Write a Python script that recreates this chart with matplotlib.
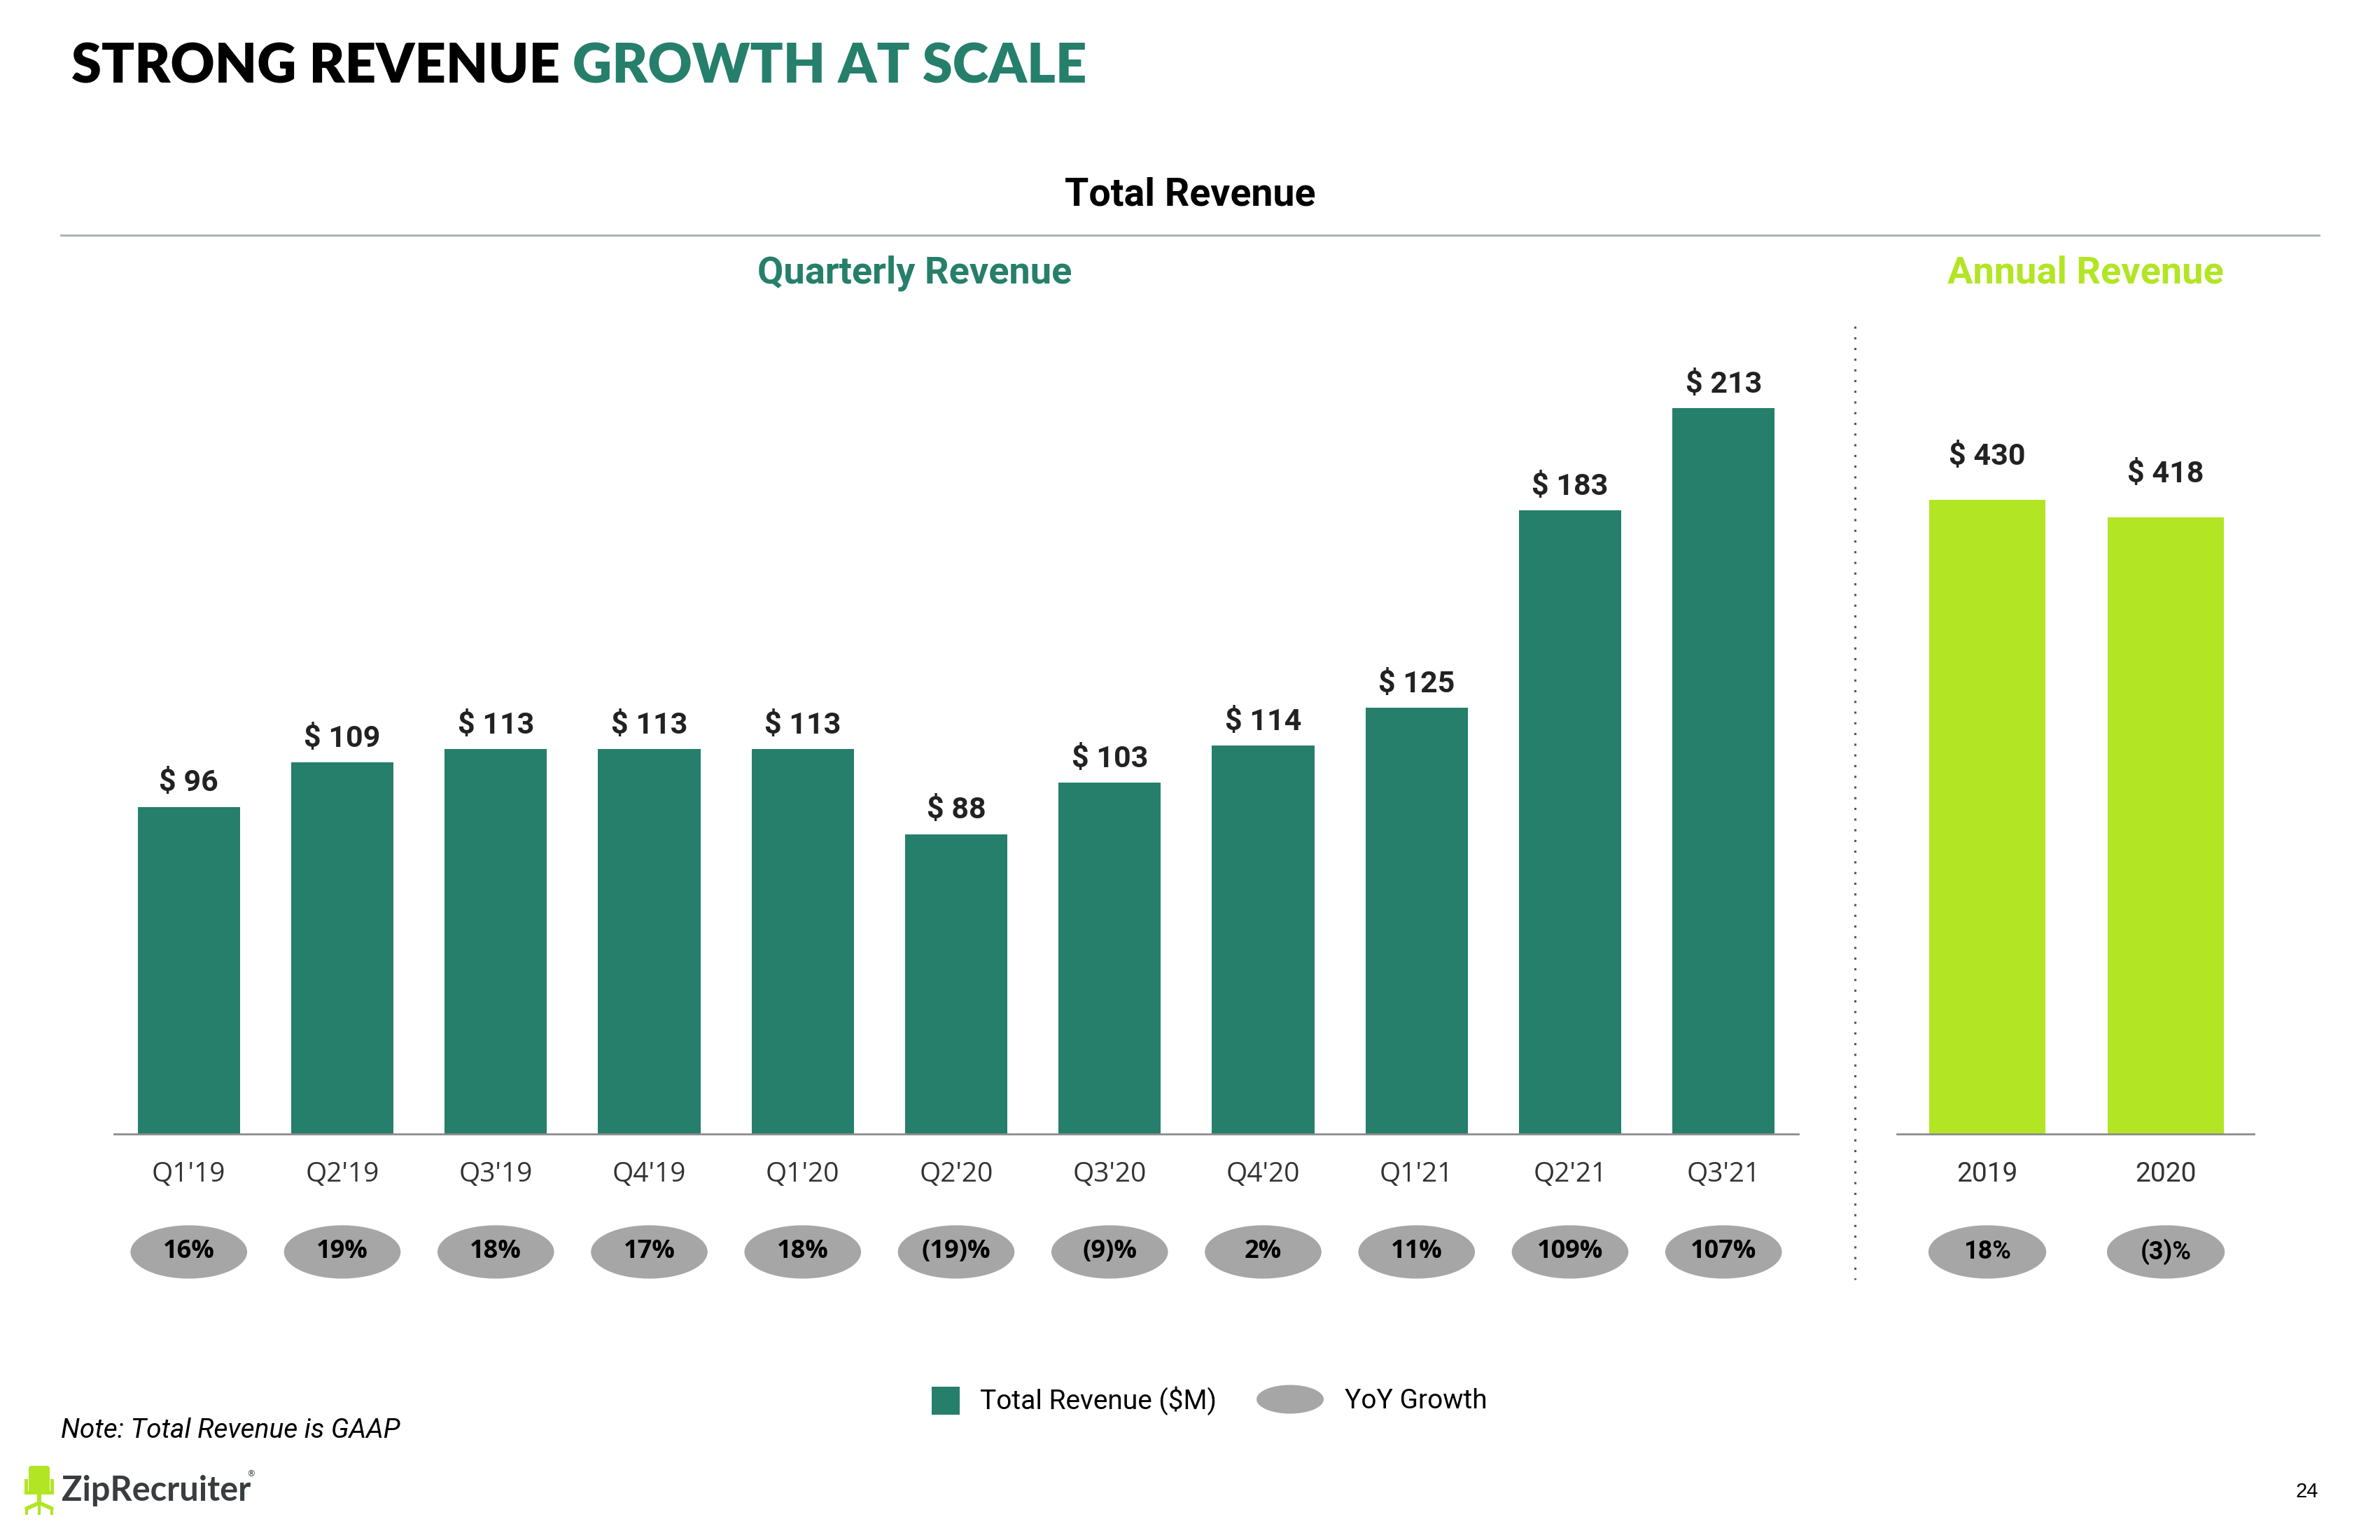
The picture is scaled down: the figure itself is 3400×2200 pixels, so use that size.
import matplotlib
matplotlib.use('Agg')
import matplotlib.pyplot as plt
from matplotlib.patches import Rectangle, Ellipse, FancyBboxPatch
from matplotlib.transforms import blended_transform_factory

# data
quarters = ["Q1'19", "Q2'19", "Q3'19", "Q4'19", "Q1'20", "Q2'20",
			"Q3'20", "Q4'20", "Q1'21", "Q2'21", "Q3'21"]
quarter_rev = [96, 109, 113, 113, 113, 88, 103, 114, 125, 183, 213]
quarter_yoy = ["16%", "19%", "18%", "17%", "18%", "(19)%",
			   "(9)%", "2%", "11%", "109%", "107%"]

years = ["2019", "2020"]
annual_rev = [430, 418]
annual_yoy = ["18%", "(3)%"]

GREEN = '#267F6A'
LIME = '#B2E524'
OVAL = '#A6A6A6'
W, H = 3400, 2200

fig = plt.figure(figsize=(W/100, H/100), dpi=100)

# background axes in pixel coords for the slide decoration
bg = fig.add_axes([0, 0, 1, 1])
bg.set_xlim(0, W)
bg.set_ylim(H, 0)
bg.axis('off')

def ax_rect(x0, x1, ytop, ybot):
	return [x0/W, 1-ybot/H, (x1-x0)/W, (ybot-ytop)/H]

# title
t1 = bg.text(102, 96, "STRONG REVENUE ", fontsize=56, family='Lato',
			 weight='heavy', color='black', va='center', ha='left')
bg.annotate("GROWTH AT SCALE", xy=(1, 0), xycoords=t1, va='bottom', ha='left',
			fontsize=56, family='Lato', weight='heavy', color=GREEN)

bg.text(1700, 278, "Total Revenue", fontsize=40, family='Roboto',
		weight='bold', ha='center', va='center')
bg.plot([87, 3313], [336, 336], color='#A7AFB3', lw=2)
bg.text(1307, 390, "Quarterly Revenue", fontsize=39, family='Roboto',
		weight='bold', color=GREEN, ha='center', va='center')
bg.text(2979, 390, "Annual Revenue", fontsize=39, family='Roboto',
		weight='bold', color=LIME, ha='center', va='center')

# dotted divider
bg.plot([2650, 2650], [466, 1828], color='#555555', lw=2.2,
		linestyle=(0, (1, 4)), dash_capstyle='butt')

def style_axes(ax):
	for s in ['top', 'left', 'right']:
		ax.spines[s].set_visible(False)
	ax.spines['bottom'].set_color('#8C8C8C')
	ax.spines['bottom'].set_linewidth(2)
	ax.set_yticks([])
	ax.tick_params(axis='x', length=0, pad=28)
	ax.patch.set_alpha(0)

# quarterly
ax1 = fig.add_axes(ax_rect(163, 2569, 466, 1620))
ax1.bar(range(len(quarters)), quarter_rev, width=0.667, color=GREEN)
ax1.set_xlim(-0.487, len(quarters)-1+0.487)
ax1.set_ylim(0, 237)
style_axes(ax1)
ax1.set_xticks(range(len(quarters)))
ax1.set_xticklabels(quarters, fontsize=28, family='Open Sans', color='#333333')
for i, v in enumerate(quarter_rev):
	ax1.annotate(f"$ {v}", xy=(i, v), xytext=(0, 16), textcoords='offset points',
				 ha='center', va='baseline', fontsize=31, family='Roboto',
				 weight='bold', color='#222222')
tr1 = blended_transform_factory(ax1.transData, ax1.transAxes)
for i, s in enumerate(quarter_yoy):
	ax1.add_patch(Ellipse((i, -0.146), 0.76, 0.066, transform=tr1,
						  color=OVAL, clip_on=False, lw=0))
	ax1.text(i, -0.146, s, transform=tr1, ha='center', va='center',
			 fontsize=26, family='Open Sans', weight='bold')

# annual
ax2 = fig.add_axes(ax_rect(2710, 3220, 466, 1620))
ax2.bar(range(len(years)), annual_rev, width=0.65, color=LIME)
ax2.set_xlim(-0.506, 1.494)
ax2.set_ylim(0, 547.7)
style_axes(ax2)
ax2.set_xticks(range(len(years)))
ax2.set_xticklabels(years, fontsize=28, family='Roboto', color='#333333')
for i, v in enumerate(annual_rev):
	ax2.annotate(f"$ {v}", xy=(i, v), xytext=(0, 36), textcoords='offset points',
				 ha='center', va='baseline', fontsize=31, family='Roboto',
				 weight='bold', color='#222222')
tr2 = blended_transform_factory(ax2.transData, ax2.transAxes)
for i, s in enumerate(annual_yoy):
	ax2.add_patch(Ellipse((i, -0.146), 0.66, 0.066, transform=tr2,
						  color=OVAL, clip_on=False, lw=0))
	ax2.text(i, -0.146, s, transform=tr2, ha='center', va='center',
			 fontsize=26, family='Roboto', weight='bold')

# legend
bg.add_patch(Rectangle((1331, 1981), 40, 40, color=GREEN, lw=0))
bg.text(1400, 2001, "Total Revenue ($M)", fontsize=28, family='Roboto',
		ha='left', va='center')
bg.add_patch(Ellipse((1843, 1999), 96, 41, color=OVAL, lw=0))
bg.text(1921, 2001, "YoY Growth", fontsize=28, family='Roboto',
		ha='left', va='center')

# footer
bg.text(87, 2044, "Note: Total Revenue is GAAP", fontsize=28, family='Roboto',
		style='italic', ha='left', va='center')
bg.text(3296, 2131, "24", fontsize=21, family='Liberation Sans',
		ha='center', va='center')

# logo chair
bg.add_patch(FancyBboxPatch((41, 2094), 30, 40, boxstyle='round,pad=0,rounding_size=4',
							color=LIME, lw=0))
bg.add_patch(Rectangle((35, 2113), 5, 20, color=LIME, lw=0))
bg.add_patch(Rectangle((72, 2113), 5, 20, color=LIME, lw=0))
bg.add_patch(Rectangle((35, 2130), 42, 5, color=LIME, lw=0))
bg.add_patch(Rectangle((53, 2135), 6, 13, color=LIME, lw=0))
bg.plot([38, 56, 74], [2155, 2147, 2155], color=LIME, lw=4, solid_capstyle='round')
bg.plot([38, 38], [2155, 2162], color=LIME, lw=3)
bg.plot([74, 74], [2155, 2162], color=LIME, lw=3)
bg.plot([56, 56], [2147, 2162], color=LIME, lw=3)
bg.text(88, 2129, "ZipRecruiter", fontsize=35, family='Lato', weight='bold',
		color='#3A3D40', ha='left', va='center')
bg.text(352, 2106, "\u00ae", fontsize=9, family='DejaVu Sans', color='#3A3D40',
		ha='left', va='center')

fig.savefig('out.png', dpi=100)
